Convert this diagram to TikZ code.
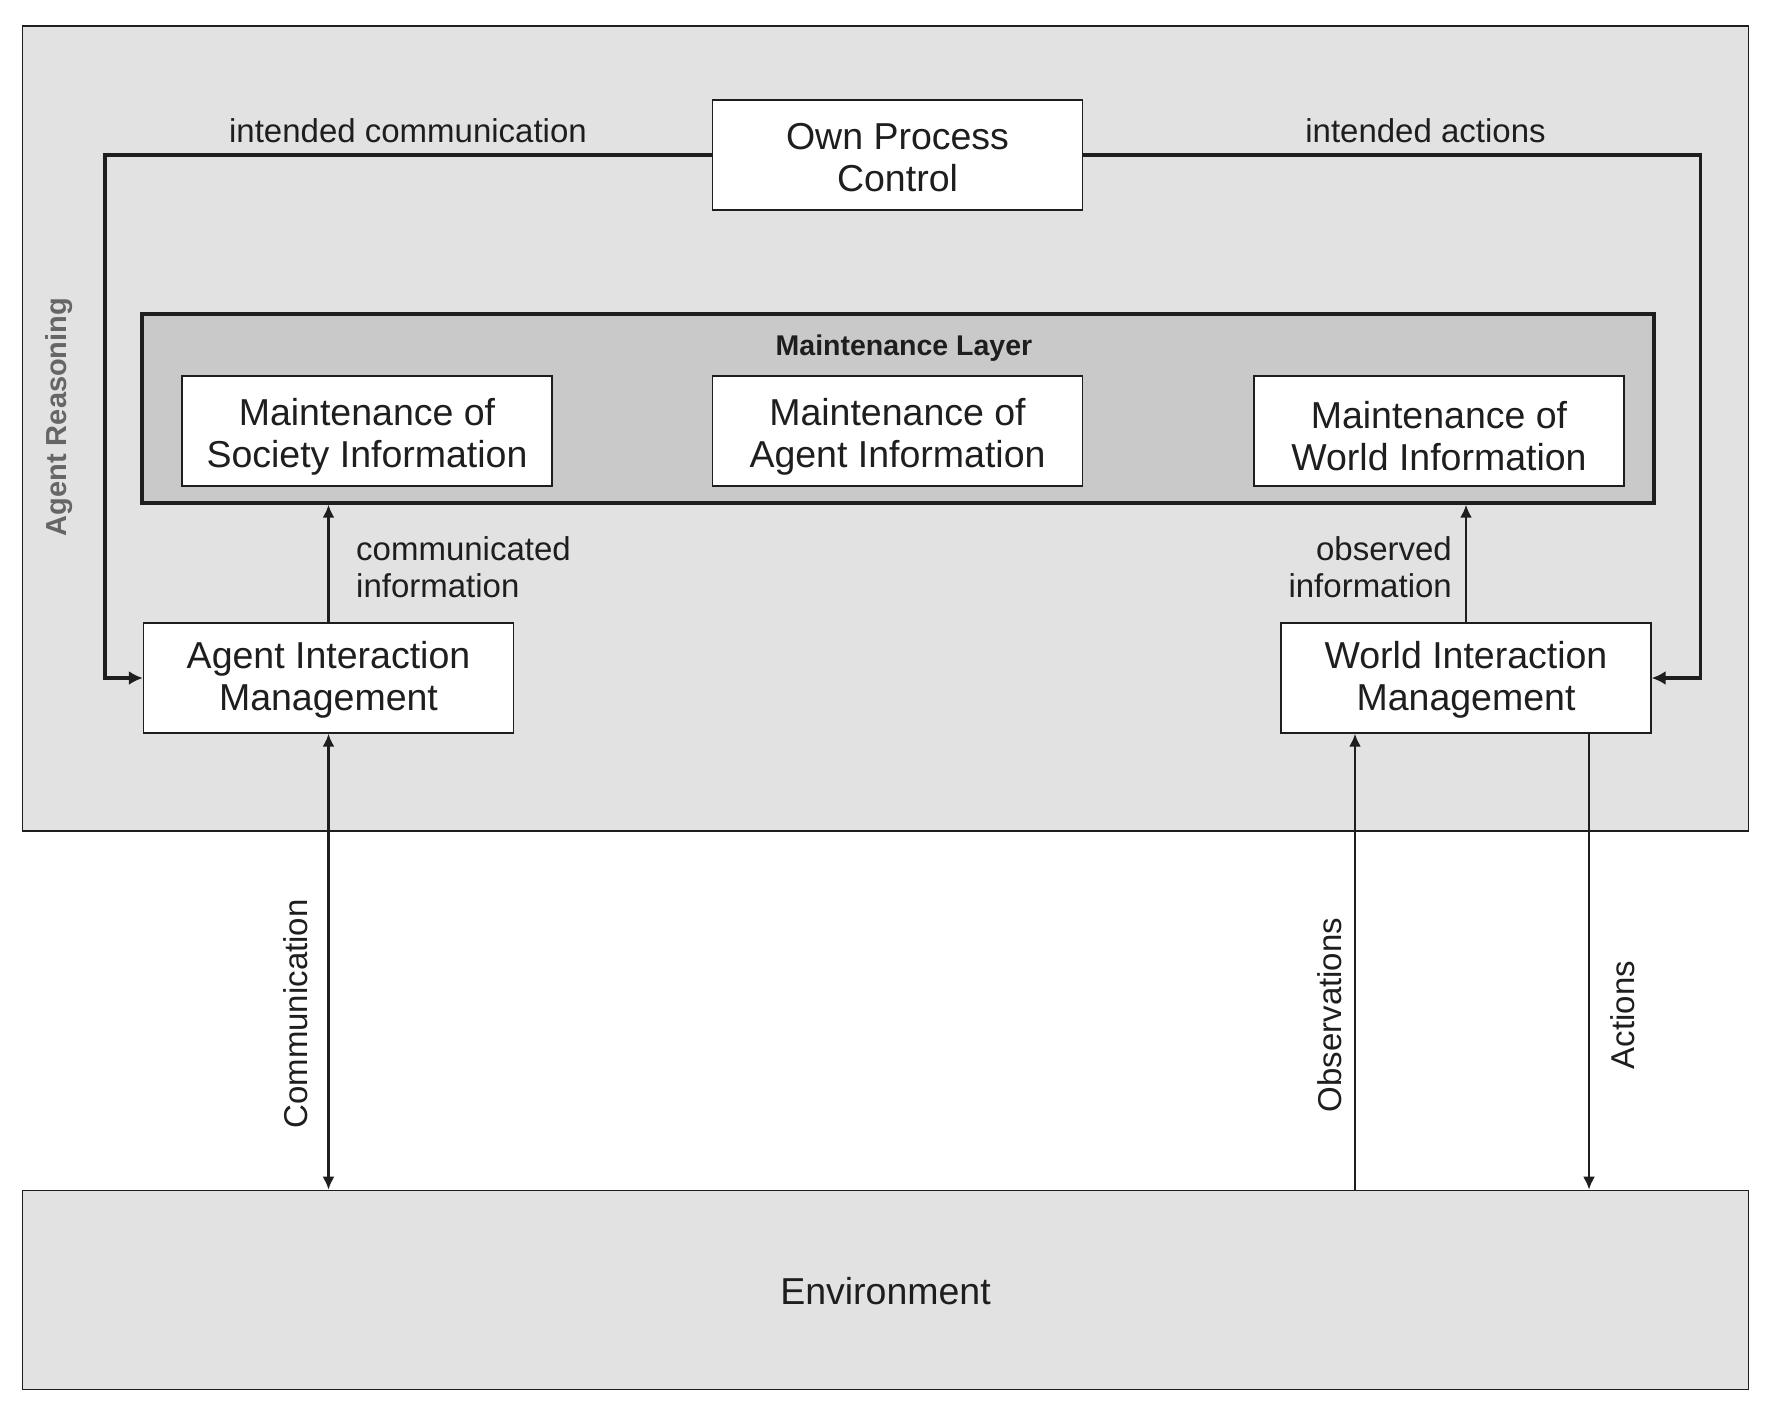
\documentclass[tikz,border=0pt]{standalone}
\usepackage{fontspec}
\setmainfont{Liberation Sans}
\usetikzlibrary{arrows.meta,calc}
\definecolor{bgouter}{HTML}{E2E2E2}
\definecolor{bglayer}{HTML}{C9C9C9}
\definecolor{ink}{HTML}{1E1E1E}
\definecolor{graytxt}{HTML}{666666}
\begin{document}
\begin{tikzpicture}[x=1pt,y=-1pt,
  box/.style={draw=ink, fill=white, line width=1.3pt, minimum width=370pt, minimum height=110pt,
    inner sep=0pt},
  boxtext/.style={font=\fontsize{37.5}{42}\selectfont, text=ink, align=center, inner sep=0pt},
  region/.style={draw=ink, line width=1.6pt, fill=bgouter, inner sep=0pt},
  lbl/.style={font=\fontsize{33}{37}\selectfont, text=ink, inner sep=0pt},
  loopline/.style={draw=ink, line width=3.2pt, -{Latex[length=14pt,width=14pt]}},
  flow/.style={draw=ink, line width=2.4pt, -{Latex[length=13pt,width=12pt]}},
  flowboth/.style={draw=ink, line width=2.4pt, {Latex[length=13pt,width=12pt]}-{Latex[length=13pt,width=12pt]}},
]
\useasboundingbox (0,0) rectangle (1771,1417);
\fill[white] (0,0) rectangle (1771,1417);

% regions
\node[region, minimum width=1726pt, minimum height=805pt] (outer) at (885.5,428.5) {};
\node[region, minimum width=1726pt, minimum height=199pt,
  label={[boxtext, yshift=-1pt]center:Environment}] (env) at (885.5,1290) {};
\node[draw=ink, line width=3.4pt, fill=bglayer, minimum width=1512pt, minimum height=189pt,
  inner sep=0pt] (ml) at (898,408.5) {};
\node[font=\bfseries\fontsize{28.5}{32}\selectfont, text=ink, inner sep=0pt] (mltitle) at (904,348) {Maintenance Layer};
\node[font=\bfseries\fontsize{29}{32}\selectfont, text=graytxt, rotate=90, inner sep=0pt] (artitle) at (59,417) {Agent Reasoning};

% boxes
\node[box, label={[boxtext, yshift=-2.3pt]center:Own Process\\Control}] (opc) at (897.5,155) {};
\node[box, label={[boxtext, yshift=-6.2pt]center:Maintenance of\\Society Information}] (ms) at (367,431) {};
\node[box, label={[boxtext, yshift=-6.2pt]center:Maintenance of\\Agent Information}] (ma) at (897.5,431) {};
\node[box, label={[boxtext, yshift=-5.5pt]center:Maintenance of\\World Information}] (mw) at (1439,431) {};
\node[box, label={[boxtext, yshift=-1.5pt]center:Agent Interaction\\Management}] (aim) at (328.5,678) {};
\node[box, label={[boxtext, yshift=-1.5pt]center:World Interaction\\Management}] (wim) at (1466,678) {};

% helper coordinates
\coordinate (lx) at (105,0);
\coordinate (rx) at (1700.5,0);
\coordinate (ox) at (1355,0);
\coordinate (ax) at (1589,0);

% loops from own process control
\draw[loopline] (opc.west) -| (lx |- aim.west) -- (aim.west);
\draw[loopline] (opc.east) -| (rx |- wim.east) -- (wim.east);

% upward information flows
\draw[flow] (aim.north) -- (aim.north |- ml.south);
\draw[flow] (wim.north) -- (wim.north |- ml.south);

% environment flows
\draw[flowboth] (aim.south) -- (aim.south |- env.north);
\draw[flow] (ox |- env.north) -- (ox |- wim.south);
\draw[flow] (ax |- wim.south) -- (ax |- env.north);

% labels
\node[lbl] (lic) at (408,131) {intended communication};
\node[lbl] (lia) at (1425.5,131) {intended actions};
\node[lbl, anchor=west, align=left] (lci) at (356,567) {communicated\\information};
\node[lbl, anchor=east, align=right] (loi) at (1452,567) {observed\\information};
\node[lbl, rotate=90] (lcomm) at (296,1014) {Communication};
\node[lbl, rotate=90] (lobs) at (1329.5,1015) {Observations};
\node[lbl, rotate=90] (lact) at (1623,1015) {Actions};
\end{tikzpicture}
\end{document}
